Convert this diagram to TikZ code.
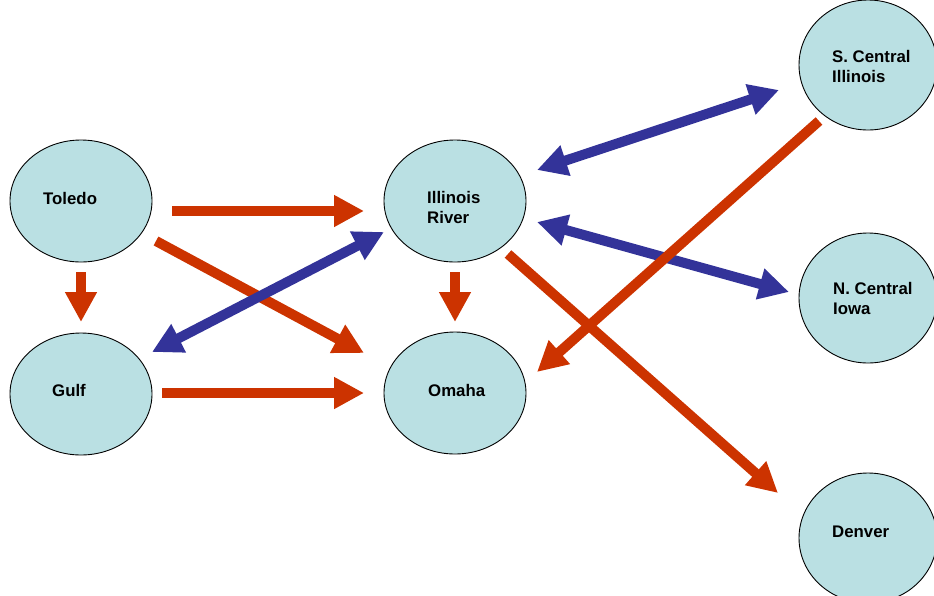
\documentclass[tikz,border=0pt]{standalone}
\usepackage{fontspec}
\setmainfont{Liberation Sans}
\usetikzlibrary{arrows.meta,calc,shapes.geometric}
\definecolor{arrred}{RGB}{204,51,0}
\definecolor{arrblue}{RGB}{51,51,153}
\definecolor{cityfill}{RGB}{186,224,227}
\newcommand{\twolines}[2]{\vtop{\hbox{#1}\hbox{#2}}}
\tikzset{
  city/.style={ellipse,draw=black,line width=0.9pt,fill=cityfill,inner sep=0pt},
  cityL/.style={city,minimum width=142pt,minimum height=122pt},
  cityR/.style={city,minimum width=138pt,minimum height=130pt},
  citytext/.style={anchor=base west,inner sep=0pt,font=\fontsize{16.8}{20.5}\selectfont\bfseries},
  redarrow/.style={draw=arrred,line width=10pt,-{Triangle[length=30pt,width=30pt]}},
  bluearrow/.style={draw=arrblue,line width=10pt,{Triangle[length=30pt,width=30pt]}-{Triangle[length=30pt,width=30pt]}}
}
\begin{document}
\begin{tikzpicture}[x=1pt,y=-1pt]
\useasboundingbox (0,0) rectangle (934,595);
\node[cityL] (toledo) at (81,201) {};
\node[cityL] (gulf) at (81,394) {};
\node[cityL] (illinois) at (455,201) {};
\node[cityL] (omaha) at (455,393) {};
\node[cityR] (scentral) at (868,65) {};
\node[cityR] (ncentral) at (868,298) {};
\node[cityR] (denver) at (868,538) {};
\node[citytext] (toledoT) at (43,204) {Toledo};
\node[citytext] (gulfT) at (52,396) {Gulf};
\node[citytext] (illinoisT) at (427,203) {\twolines{Illinois}{River}};
\node[citytext] (omahaT) at (428,396) {Omaha};
\node[citytext] (scentralT) at (832,62) {\twolines{S. Central}{Illinois}};
\node[citytext] (ncentralT) at (833,294) {\twolines{N. Central}{Iowa}};
\node[citytext] (denverT) at (832,537) {Denver};
% arrows
\draw[redarrow] ($(toledo)+(91,10)$) -- ($(illinois)+(-91,10)$);
\draw[redarrow] ($(toledo)+(0,71)$) -- ($(gulf)+(0,-72)$);
\draw[redarrow] ($(toledo)+(75,40)$) -- ($(omaha)+(-91,-40)$);
\draw[bluearrow] ($(gulf)+(71,-42)$) -- ($(illinois)+(-71,31)$);
\draw[redarrow] ($(gulf)+(81,-1)$) -- ($(omaha)+(-91,0)$);
\draw[redarrow] ($(illinois)+(0,71)$) -- ($(omaha)+(0,-71)$);
\draw[bluearrow] ($(illinois)+(82,-31)$) -- ($(scentral)+(-89,25)$);
\draw[bluearrow] ($(illinois)+(82,21)$) -- ($(ncentral)+(-79,-6)$);
\draw[redarrow] ($(scentral)+(-49,56)$) -- ($(omaha)+(82,-21)$);
\draw[redarrow] ($(illinois)+(53,53)$) -- ($(denver)+(-90,-45)$);
\end{tikzpicture}
\end{document}
